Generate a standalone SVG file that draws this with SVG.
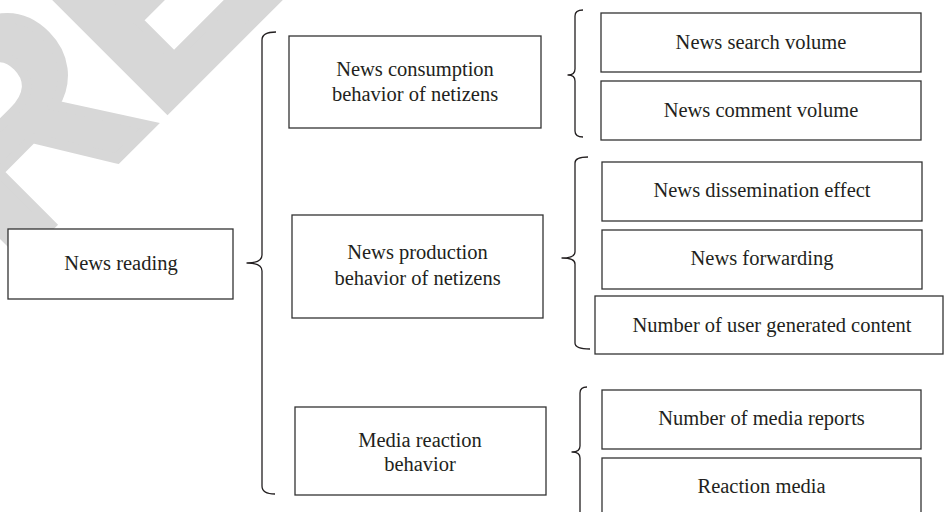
<svg xmlns="http://www.w3.org/2000/svg" width="944" height="512" viewBox="0 0 944 512">
  <style>
    .box { fill: #ffffff; stroke: #333333; stroke-width: 1.3; }
    .lbl { font-family: "Liberation Serif", "Times New Roman", serif; font-size: 20.5px; fill: #231f20; text-anchor: middle; }
    .brace { fill: none; stroke: #231f20; stroke-width: 1.3; stroke-linejoin: round; }
    .wm { font-family: "Liberation Sans", Arial, sans-serif; font-weight: bold; font-size: 285px; fill: #d7d7d7; stroke: #d7d7d7; stroke-width: 10; }
  </style>

  <rect width="944" height="512" fill="#ffffff"/>

  <!-- faint diagonal watermark lettering -->
  <text class="wm" x="-183" y="195" transform="rotate(-45)">RE</text>

  <!-- braces linking each level to its children -->
  <g id="connectors">
    <path class="brace" d="M276,32 Q262,32 262,40 L262,255 Q262,263 247,263 Q262,263 262,271 L262,486 Q262,494 275,494"/>
    <path class="brace" d="M583,10 Q575,10 575,16 L575,69 Q575,75 568,75 Q575,75 575,81 L575,131 Q575,137 583,137"/>
    <path class="brace" d="M588,157 Q575,157 575,163 L575,252 Q575,258 562,258 Q575,258 575,264 L575,343 Q575,349 590,349"/>
    <path class="brace" d="M587,387 Q580,387 580,393 L580,446 Q580,452 572,452 Q580,452 580,458 L580,520"/>
  </g>

  <g id="news-reading">
    <rect class="box" x="8" y="229" width="225" height="70"/>
    <text class="lbl" x="121" y="270">News reading</text>
  </g>

  <g id="consumption">
    <rect class="box" x="289" y="36" width="252" height="92"/>
    <text class="lbl" x="415" y="76">News consumption</text>
    <text class="lbl" x="415" y="101">behavior of netizens</text>
  </g>

  <g id="production">
    <rect class="box" x="292" y="215" width="251" height="103"/>
    <text class="lbl" x="417.5" y="259">News production</text>
    <text class="lbl" x="417.5" y="285">behavior of netizens</text>
  </g>

  <g id="media-reaction">
    <rect class="box" x="295" y="407" width="251" height="88"/>
    <text class="lbl" x="420" y="447">Media reaction</text>
    <text class="lbl" x="420" y="471">behavior</text>
  </g>

  <g id="search-volume">
    <rect class="box" x="601" y="13" width="320" height="59"/>
    <text class="lbl" x="761" y="49">News search volume</text>
  </g>

  <g id="comment-volume">
    <rect class="box" x="601" y="81" width="320" height="59"/>
    <text class="lbl" x="761" y="117">News comment volume</text>
  </g>

  <g id="dissemination">
    <rect class="box" x="602" y="162" width="320" height="59"/>
    <text class="lbl" x="762" y="197">News dissemination effect</text>
  </g>

  <g id="forwarding">
    <rect class="box" x="602" y="230" width="320" height="59"/>
    <text class="lbl" x="762" y="265">News forwarding</text>
  </g>

  <g id="user-content">
    <rect class="box" x="595" y="296" width="348" height="58"/>
    <text class="lbl" x="772" y="332">Number of user generated content</text>
  </g>

  <g id="media-reports">
    <rect class="box" x="602" y="390" width="319" height="59"/>
    <text class="lbl" x="761.5" y="425">Number of media reports</text>
  </g>

  <g id="reaction-media">
    <rect class="box" x="602" y="458" width="319" height="60"/>
    <text class="lbl" x="761.5" y="493">Reaction media</text>
  </g>
</svg>
